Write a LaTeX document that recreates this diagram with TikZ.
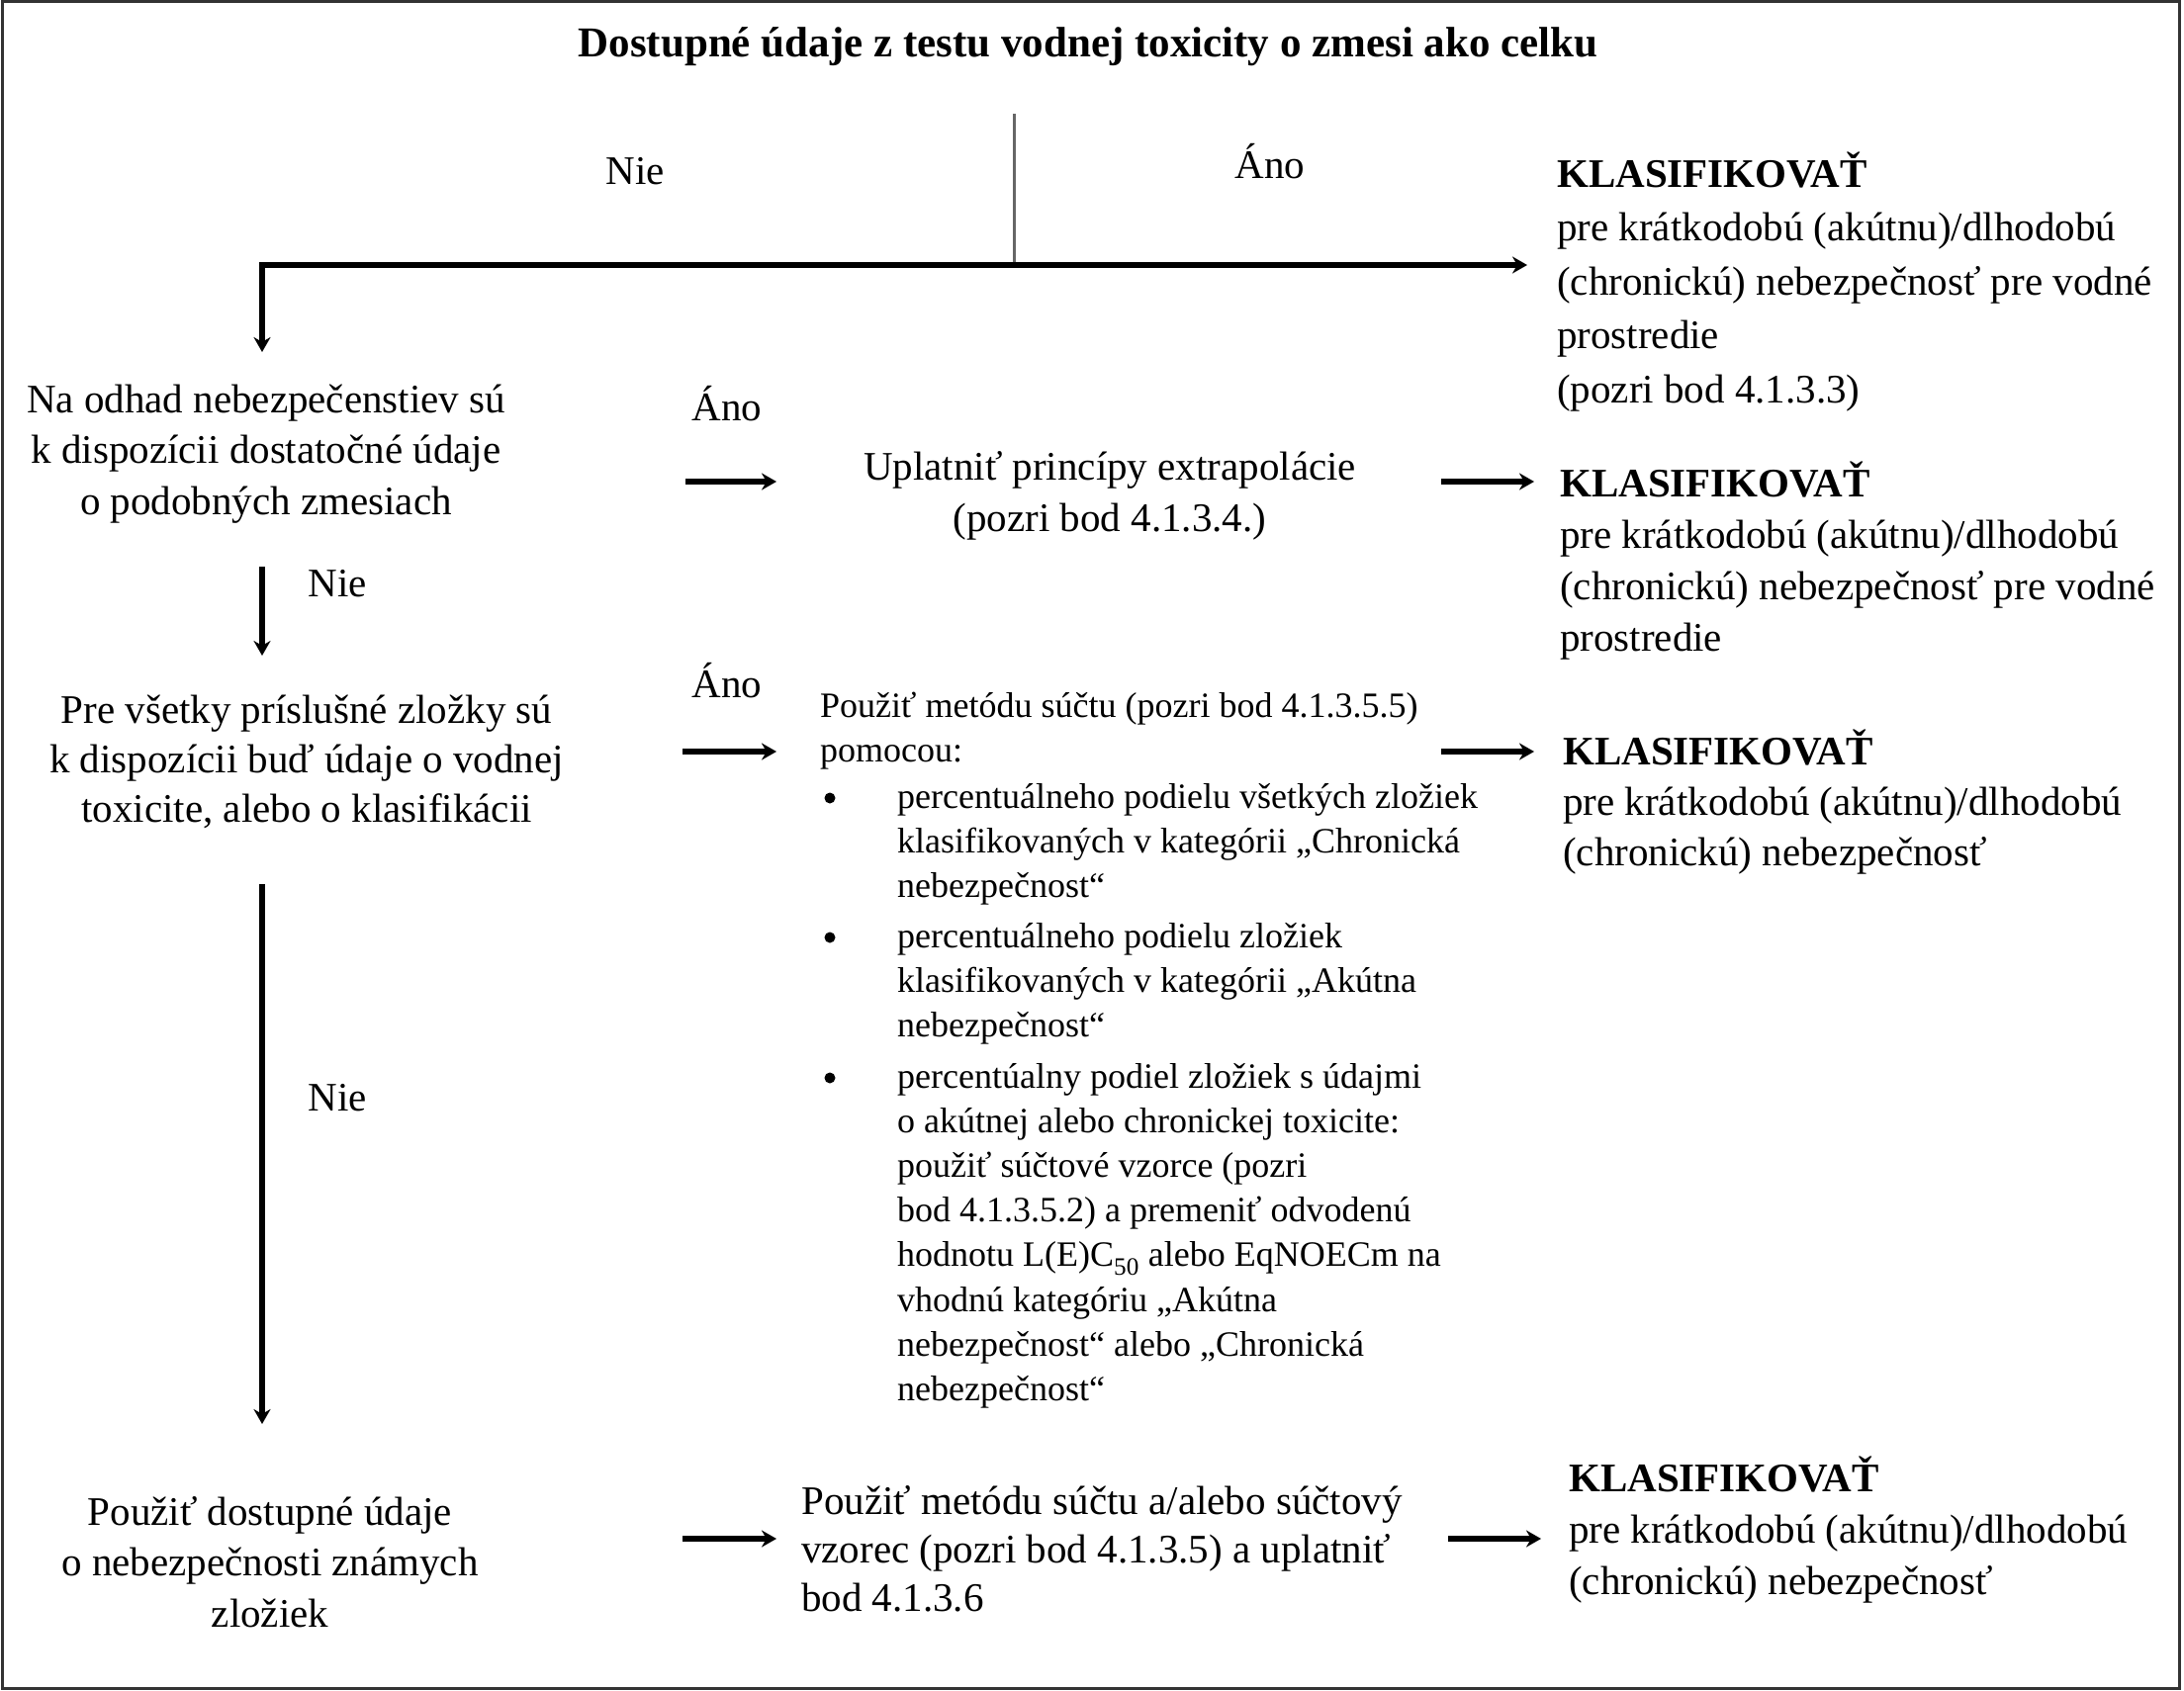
\documentclass[tikz,border=0pt]{standalone}
\usepackage{fontspec}
\setmainfont{Liberation Serif}
\usetikzlibrary{arrows.meta}
\newcommand{\myL}[1]{\begin{tabular}[t]{@{}l@{}}#1\end{tabular}}
\newcommand{\myC}[1]{\begin{tabular}[t]{@{}c@{}}#1\end{tabular}}
\tikzset{
  txt/.style={inner sep=0pt, font=\fontsize{41}{#1}\selectfont},
  txt/.default=52,
  smtxt/.style={inner sep=0pt, font=\fontsize{36}{45.2}\selectfont},
  boldtxt/.style={inner sep=0pt, font=\bfseries\fontsize{43}{50}\selectfont},
  arr/.style={line width=5.5pt, -{Stealth[length=15pt,width=17pt]}},
  darr/.style={line width=5.5pt, {Stealth[length=15pt,width=17pt]}-{Stealth[length=15pt,width=17pt]}},
  thinln/.style={line width=3pt, black!60},
  frame/.style={line width=3pt, black!80},
}
\begin{document}
\begin{tikzpicture}[x=1pt,y=-1pt]
\useasboundingbox (0,0) rectangle (2208,1710);
\draw[frame] (2,2) rectangle (2203,1707);

% title
\node[boldtxt, anchor=base] (title) at (1100,58) {Dostupné údaje z testu vodnej toxicity o zmesi ako celku};
\node[txt, anchor=base] (nie0) at (642,186) {Nie};
\node[txt, anchor=base] (ano0) at (1284,180) {Áno};

% right column
\node[txt=54.5, anchor=base west] (k1) at (1574,189) {\myL{\textbf{KLASIFIKOVAŤ}\\pre krátkodobú (akútnu)/dlhodobú\\(chronickú) nebezpečnosť pre vodné\\prostredie\\(pozri bod 4.1.3.3)}};
\node[txt=52, anchor=base west] (k2) at (1577,502) {\myL{\textbf{KLASIFIKOVAŤ}\\pre krátkodobú (akútnu)/dlhodobú\\(chronickú) nebezpečnosť pre vodné\\prostredie}};
\node[txt=51, anchor=base west] (k3) at (1580,773) {\myL{\textbf{KLASIFIKOVAŤ}\\pre krátkodobú (akútnu)/dlhodobú\\(chronickú) nebezpečnosť}};
\node[txt=52, anchor=base west] (k4) at (1586,1508) {\myL{\textbf{KLASIFIKOVAŤ}\\pre krátkodobú (akútnu)/dlhodobú\\(chronickú) nebezpečnosť}};

% left column
\node[txt=51.5, anchor=base] (qa) at (269,417) {\myC{Na odhad nebezpečenstiev sú\\k dispozícii dostatočné údaje\\o podobných zmesiach}};
\node[txt=50, anchor=base] (qb) at (310,731) {\myC{Pre všetky príslušné zložky sú\\k dispozícii buď údaje o vodnej\\toxicite, alebo o klasifikácii}};
\node[txt=51.5, anchor=base] (qc) at (273,1542) {\myC{Použiť dostupné údaje\\o nebezpečnosti známych\\zložiek}};
\node[txt, anchor=base] (nie1) at (341,603) {Nie};
\node[txt, anchor=base] (nie2) at (341,1123) {Nie};

% middle column
\node[txt, anchor=base] (ano1) at (735,425) {Áno};
\node[txt, anchor=base] (ano2) at (735,705) {Áno};
\node[txt=52, anchor=base] (m1) at (1122,485) {\myC{Uplatniť princípy extrapolácie\\(pozri bod 4.1.3.4.)}};
\node[smtxt, anchor=base west] (m2) at (829,725) {\myL{Použiť metódu súčtu (pozri bod 4.1.3.5.5)\\pomocou:}};
\node[smtxt, anchor=base west] (b1) at (907,817) {\myL{percentuálneho podielu všetkých zložiek\\klasifikovaných v kategórii „Chronická\\nebezpečnost“}};
\node[smtxt, anchor=base west] (b2) at (907,958) {\myL{percentuálneho podielu zložiek\\klasifikovaných v kategórii „Akútna\\nebezpečnost“}};
\node[smtxt, anchor=base west] (b3) at (907,1100) {\myL{percentúalny podiel zložiek s údajmi\\o akútnej alebo chronickej toxicite:\\použiť súčtové vzorce (pozri\\bod 4.1.3.5.2) a premeniť odvodenú\\hodnotu L(E)C\textsubscript{50} alebo EqNOECm na\\vhodnú kategóriu „Akútna\\nebezpečnost“ alebo „Chronická\\nebezpečnost“}};
\fill (839,807) circle (5.5);
\fill (839,948) circle (5.5);
\fill (839,1090) circle (5.5);
\node[txt=49, anchor=base west] (m3) at (810,1531) {\myL{Použiť metódu súčtu a/alebo súčtový\\vzorec (pozri bod 4.1.3.5) a uplatniť\\bod 4.1.3.6}};

% connectors
\coordinate (tt) at (1025,115);
\coordinate (tj) at (1025,268);
\coordinate (c1) at (265,268);
\coordinate (e1) at (1544,268);
\coordinate (d1) at (265,356);
\draw[thinln] (tt) -- (tj);
\draw[darr] (d1) -- (c1) -- (e1);

\coordinate (d2s) at (265,573);
\coordinate (d2e) at (265,663);
\draw[arr] (d2s) -- (d2e);
\coordinate (d3s) at (265,894);
\coordinate (d3e) at (265,1440);
\draw[arr] (d3s) -- (d3e);

\coordinate (h1s) at (693,487);
\coordinate (h1e) at (785,487);
\draw[arr] (h1s) -- (h1e);
\coordinate (h2s) at (1457,487);
\coordinate (h2e) at (1551,487);
\draw[arr] (h2s) -- (h2e);
\coordinate (h3s) at (690,760);
\coordinate (h3e) at (785,760);
\draw[arr] (h3s) -- (h3e);
\coordinate (h4s) at (1457,760);
\coordinate (h4e) at (1551,760);
\draw[arr] (h4s) -- (h4e);
\coordinate (h5s) at (690,1556);
\coordinate (h5e) at (785,1556);
\draw[arr] (h5s) -- (h5e);
\coordinate (h6s) at (1464,1556);
\coordinate (h6e) at (1558,1556);
\draw[arr] (h6s) -- (h6e);
\end{tikzpicture}
\end{document}
